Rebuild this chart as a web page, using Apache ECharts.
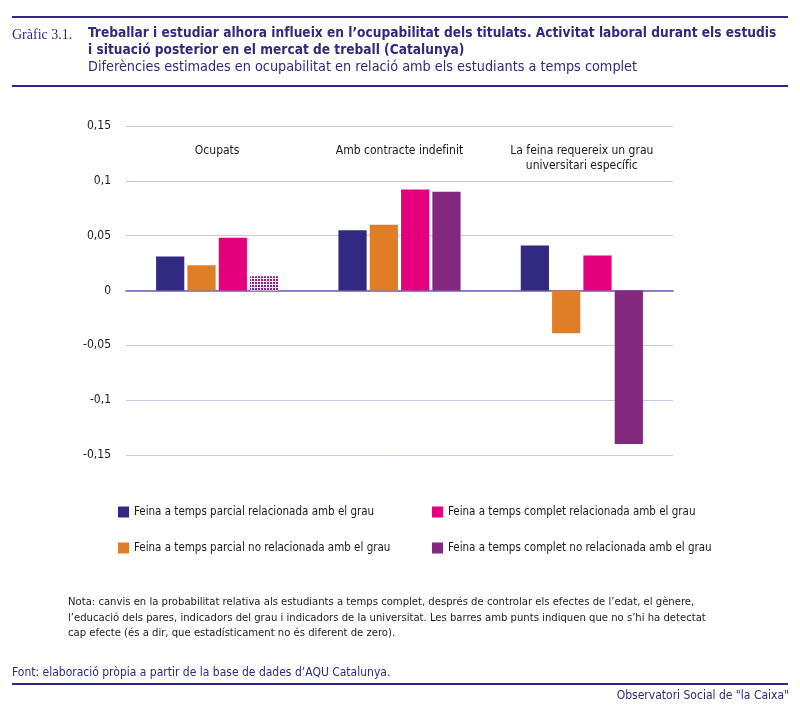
<!DOCTYPE html>
<html lang="ca">
<head>
    <meta charset="UTF-8">
    <title>Gràfic 3.1</title>
    <script src="https://cdn.jsdelivr.net/npm/echarts@6/dist/echarts.min.js"></script>
    <style>
        html, body { margin: 0; padding: 0; background: #fff; }
        #chart { width: 800px; height: 709px; }
    </style>
</head>
<body>
<div id="chart"></div>
<script>
    // data
    var categories = ['Ocupats', 'Amb contracte indefinit', 'La feina requereix un grau\nuniversitari específic'];
    var parcialRel   = [0.031, 0.055, 0.041];
    var parcialNoRel = [0.023, 0.060, -0.039];
    var completRel   = [0.048, 0.092, 0.032];
    var completNoRel = [0.013, 0.090, -0.140];
    var notSignificant = [[3, 0]];   // [series, category] drawn with dots
    var seriesNames = [
        'Feina a temps parcial relacionada amb el grau',
        'Feina a temps parcial no relacionada amb el grau',
        'Feina a temps complet relacionada amb el grau',
        'Feina a temps complet no relacionada amb el grau'
    ];
    var colors = ['#312a80', '#e07d27', '#e4007d', '#84277f'];

    var NAVY = '#2f2a7e';
    var FONT = '"Liberation Sans Narrow", "DejaVu Sans Condensed", Roboto, sans-serif';

    var chart = echarts.init(document.getElementById('chart'));

    function makeSeries(idx, values) {
        return {
            name: seriesNames[idx],
            type: 'bar',
            xAxisIndex: 0,
            barCategoryGap: '33%',
            barGap: '11%',
            itemStyle: { color: colors[idx] },
            data: values.map(function (v, c) {
                var dotted = notSignificant.some(function (p) { return p[0] === idx && p[1] === c; });
                if (!dotted) return v;
                return {
                    value: v,
                    itemStyle: {
                        color: '#f3e6f2',
                        decal: {
                            symbol: 'rect',
                            symbolSize: 1,
                            color: colors[idx],
                            dashArrayX: [2, 1],
                            dashArrayY: [2, 1],
                            rotation: 0
                        }
                    }
                };
            })
        };
    }

    var legendText = { fontFamily: FONT, fontSize: 11.5, color: '#1a1a1a' };

    option = {
        animation: false,
        backgroundColor: '#fff',
        textStyle: { fontFamily: FONT },
        grid: { left: 126, right: 127, top: 126, bottom: 254 },
        legend: [
            {
                orient: 'vertical', left: 113, top: 501,
                icon: 'rect', itemWidth: 11, itemHeight: 11, itemGap: 24,
                selectedMode: false, textStyle: legendText,
                data: [seriesNames[0], seriesNames[1]]
            },
            {
                orient: 'vertical', left: 427, top: 501,
                icon: 'rect', itemWidth: 11, itemHeight: 11, itemGap: 24,
                selectedMode: false, textStyle: legendText,
                data: [seriesNames[2], seriesNames[3]]
            }
        ],
        xAxis: [
            {
                // group labels, drawn inside the plot at the top
                type: 'category',
                data: categories,
                position: 'top',
                axisLine: { show: false, onZero: false },
                axisTick: { show: false },
                axisLabel: {
                    interval: 0,
                    inside: true, margin: 17,
                    fontFamily: FONT, fontSize: 12, color: '#1a1a1a',
                    lineHeight: 15, verticalAlign: 'top'
                }
            },
            {
                // zero line
                type: 'category',
                data: categories,
                position: 'bottom',
                axisLine: { show: true, onZero: true, lineStyle: { color: '#6a5fb3', width: 1.5 } },
                axisTick: { show: false },
                axisLabel: { show: false }
            }
        ],
        yAxis: {
            type: 'value',
            min: -0.15,
            max: 0.15,
            interval: 0.05,
            axisLine: { show: false },
            axisTick: { show: false },
            splitLine: { lineStyle: { color: '#cbc7e2', width: 1 } },
            axisLabel: {
                margin: 15,
                fontFamily: FONT, fontSize: 12, color: '#1a1a1a',
                formatter: function (v) { return String(+v.toFixed(2)).replace('.', ','); }
            }
        },
        graphic: [
            { type: 'rect', shape: { x: 12, y: 16, width: 776, height: 2 }, style: { fill: NAVY } },
            { type: 'text', left: 12, top: 28, style: { text: 'Gràfic 3.1.', font: '14px "Liberation Serif", "DejaVu Serif", serif', fill: NAVY } },
            { type: 'text', left: 88, top: 26, style: { text: 'Treballar i estudiar alhora influeix en l’ocupabilitat dels titulats. Activitat laboral durant els estudis', font: 'bold 13.6px ' + FONT, fill: NAVY } },
            { type: 'text', left: 88, top: 43, style: { text: 'i situació posterior en el mercat de treball (Catalunya)', font: 'bold 13.6px ' + FONT, fill: NAVY } },
            { type: 'text', left: 88, top: 60, style: { text: 'Diferències estimades en ocupabilitat en relació amb els estudiants a temps complet', font: '14.3px ' + FONT, fill: NAVY } },
            { type: 'rect', shape: { x: 12, y: 85, width: 776, height: 2 }, style: { fill: NAVY } },

            { type: 'text', left: 68, top: 597, style: { text: 'Nota: canvis en la probabilitat relativa als estudiants a temps complet, després de controlar els efectes de l’edat, el gènere,', font: '11.2px ' + FONT, fill: '#1a1a1a' } },
            { type: 'text', left: 68, top: 613, style: { text: 'l’educació dels pares, indicadors del grau i indicadors de la universitat. Les barres amb punts indiquen que no s’hi ha detectat', font: '11.2px ' + FONT, fill: '#1a1a1a' } },
            { type: 'text', left: 68, top: 628, style: { text: 'cap efecte (és a dir, que estadísticament no és diferent de zero).', font: '11.2px ' + FONT, fill: '#1a1a1a' } },

            { type: 'text', left: 12, top: 667, style: { text: 'Font: elaboració pròpia a partir de la base de dades d’AQU Catalunya.', font: '12px ' + FONT, fill: NAVY } },
            { type: 'rect', shape: { x: 12, y: 683, width: 776, height: 2 }, style: { fill: NAVY } },
            { type: 'text', right: 11, top: 690, style: { text: 'Observatori Social de "la Caixa"', font: '12px ' + FONT, fill: NAVY } }
        ],
        series: [
            makeSeries(0, parcialRel),
            makeSeries(1, parcialNoRel),
            makeSeries(2, completRel),
            makeSeries(3, completNoRel)
        ]
    };

    chart.setOption(option);
</script>
</body>
</html>
